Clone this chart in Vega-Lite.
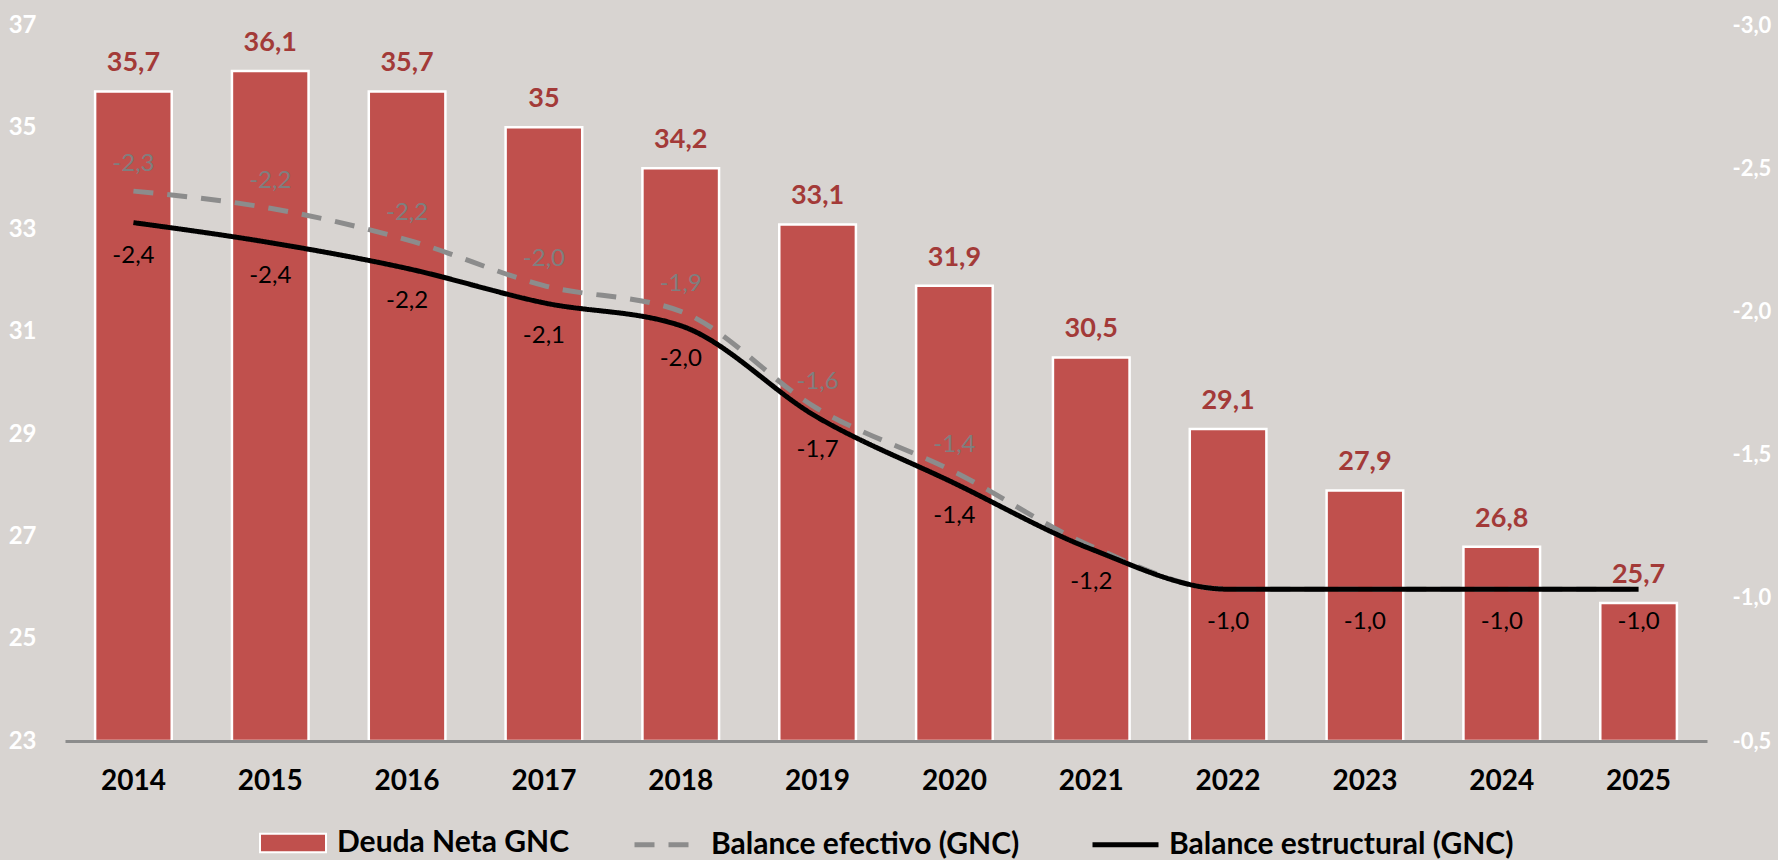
{
  "$schema": "https://vega.github.io/schema/vega-lite/v6.json",
  "autosize": {"type": "none"},
  "padding": {"left": 65, "top": 25, "right": 71, "bottom": 119},
  "width": 1642,
  "height": 716,
  "background": "#d8d4d1",
  "config": {
    "view": {"stroke": null},
    "font": "Lato",
    "legend": {
      "layout": {"bottom": {"anchor": "middle", "direction": "horizontal", "margin": 62}}
    }
  },
  "datasets": {
    "deuda": [
      {"anio": "2014", "serie": "Deuda Neta GNC", "deuda": 35.7, "etiqueta": "35,7"},
      {"anio": "2015", "serie": "Deuda Neta GNC", "deuda": 36.1, "etiqueta": "36,1"},
      {"anio": "2016", "serie": "Deuda Neta GNC", "deuda": 35.7, "etiqueta": "35,7"},
      {"anio": "2017", "serie": "Deuda Neta GNC", "deuda": 35.0, "etiqueta": "35"},
      {"anio": "2018", "serie": "Deuda Neta GNC", "deuda": 34.2, "etiqueta": "34,2"},
      {"anio": "2019", "serie": "Deuda Neta GNC", "deuda": 33.1, "etiqueta": "33,1"},
      {"anio": "2020", "serie": "Deuda Neta GNC", "deuda": 31.9, "etiqueta": "31,9"},
      {"anio": "2021", "serie": "Deuda Neta GNC", "deuda": 30.5, "etiqueta": "30,5"},
      {"anio": "2022", "serie": "Deuda Neta GNC", "deuda": 29.1, "etiqueta": "29,1"},
      {"anio": "2023", "serie": "Deuda Neta GNC", "deuda": 27.9, "etiqueta": "27,9"},
      {"anio": "2024", "serie": "Deuda Neta GNC", "deuda": 26.8, "etiqueta": "26,8"},
      {"anio": "2025", "serie": "Deuda Neta GNC", "deuda": 25.7, "etiqueta": "25,7"}
    ],
    "balance": [
      {"anio": "2014", "serie": "Balance efectivo (GNC)", "valor": -2.42, "etiqueta": "-2,3"},
      {"anio": "2015", "serie": "Balance efectivo (GNC)", "valor": -2.36, "etiqueta": "-2,2"},
      {"anio": "2016", "serie": "Balance efectivo (GNC)", "valor": -2.25, "etiqueta": "-2,2"},
      {"anio": "2017", "serie": "Balance efectivo (GNC)", "valor": -2.09, "etiqueta": "-2,0"},
      {"anio": "2018", "serie": "Balance efectivo (GNC)", "valor": -2.0, "etiqueta": "-1,9"},
      {"anio": "2019", "serie": "Balance efectivo (GNC)", "valor": -1.66, "etiqueta": "-1,6"},
      {"anio": "2020", "serie": "Balance efectivo (GNC)", "valor": -1.44, "etiqueta": "-1,4"},
      {"anio": "2021", "serie": "Balance efectivo (GNC)", "valor": -1.18, "etiqueta": ""},
      {"anio": "2022", "serie": "Balance efectivo (GNC)", "valor": -1.03, "etiqueta": ""},
      {"anio": "2023", "serie": "Balance efectivo (GNC)", "valor": -1.03, "etiqueta": ""},
      {"anio": "2024", "serie": "Balance efectivo (GNC)", "valor": -1.03, "etiqueta": ""},
      {"anio": "2025", "serie": "Balance efectivo (GNC)", "valor": -1.03, "etiqueta": ""},
      {"anio": "2014", "serie": "Balance estructural (GNC)", "valor": -2.31, "etiqueta": "-2,4"},
      {"anio": "2015", "serie": "Balance estructural (GNC)", "valor": -2.24, "etiqueta": "-2,4"},
      {"anio": "2016", "serie": "Balance estructural (GNC)", "valor": -2.15, "etiqueta": "-2,2"},
      {"anio": "2017", "serie": "Balance estructural (GNC)", "valor": -2.03, "etiqueta": "-2,1"},
      {"anio": "2018", "serie": "Balance estructural (GNC)", "valor": -1.95, "etiqueta": "-2,0"},
      {"anio": "2019", "serie": "Balance estructural (GNC)", "valor": -1.63, "etiqueta": "-1,7"},
      {"anio": "2020", "serie": "Balance estructural (GNC)", "valor": -1.40, "etiqueta": "-1,4"},
      {"anio": "2021", "serie": "Balance estructural (GNC)", "valor": -1.17, "etiqueta": "-1,2"},
      {"anio": "2022", "serie": "Balance estructural (GNC)", "valor": -1.03, "etiqueta": "-1,0"},
      {"anio": "2023", "serie": "Balance estructural (GNC)", "valor": -1.03, "etiqueta": "-1,0"},
      {"anio": "2024", "serie": "Balance estructural (GNC)", "valor": -1.03, "etiqueta": "-1,0"},
      {"anio": "2025", "serie": "Balance estructural (GNC)", "valor": -1.03, "etiqueta": "-1,0"}
    ]
  },
  "encoding": {
    "x": {
      "field": "anio",
      "type": "ordinal",
      "scale": {"paddingInner": 0.44, "paddingOuter": 0.22},
      "axis": {
        "title": null,
        "labelAngle": 0,
        "labelFont": "Lato",
        "labelFontSize": 28,
        "labelFontWeight": "bold",
        "labelColor": "#000000",
        "labelPadding": 26,
        "ticks": false,
        "domainColor": "#8c8c8c",
        "domainWidth": 3,
        "grid": false,
        "zindex": 1
      }
    }
  },
  "layer": [
    {
      "data": {"name": "deuda"},
      "encoding": {
        "y": {
          "field": "deuda",
          "type": "quantitative",
          "scale": {"domain": [23, 37], "zero": false, "nice": false},
          "axis": {
            "title": null,
            "orient": "left",
            "values": [23, 25, 27, 29, 31, 33, 35, 37],
            "domain": false,
            "ticks": false,
            "grid": false,
            "labelFont": "Lato",
            "labelFontSize": 24,
            "labelFontWeight": "bold",
            "labelColor": "#ffffff",
            "labelPadding": 29
          }
        }
      },
      "layer": [
        {
          "mark": {"type": "bar", "stroke": "#ffffff", "strokeWidth": 2.5},
          "encoding": {
            "y2": {"datum": 23},
            "fill": {
              "field": "serie",
              "type": "nominal",
              "scale": {"domain": ["Deuda Neta GNC"], "range": ["#c0504d"]},
              "legend": {
                "title": null,
                "orient": "bottom",
                "direction": "horizontal",
                "offset": 14,
                "labelFont": "Lato",
                "labelFontSize": 30,
                "labelFontWeight": "bold",
                "labelColor": "#000000",
                "labelLimit": 0,
                "labelOffset": 10,
                "symbolType": "M-1,-0.28H1V0.28H-1Z",
                "symbolSize": 4356,
                "symbolStrokeWidth": 2,
                "symbolStrokeColor": "#ffffff",
                "symbolOpacity": 1
              }
            }
          }
        },
        {
          "mark": {
            "type": "text",
            "baseline": "middle",
            "dy": -28,
            "font": "Lato",
            "fontSize": 27,
            "fontWeight": "bold",
            "color": "#a33a38"
          },
          "encoding": {"text": {"field": "etiqueta"}}
        }
      ]
    },
    {
      "data": {"name": "balance"},
      "encoding": {
        "y": {
          "field": "valor",
          "type": "quantitative",
          "scale": {"domain": [-3, -0.5], "reverse": true, "zero": false, "nice": false},
          "axis": {
            "title": null,
            "orient": "right",
            "values": [-3, -2.5, -2, -1.5, -1, -0.5],
            "labelExpr": "replace(replace(format(datum.value, '.1f'), '.', ','), '\u2212', '-')",
            "domain": false,
            "ticks": false,
            "grid": false,
            "labelFont": "Lato",
            "labelFontSize": 22,
            "labelFontWeight": "bold",
            "labelColor": "#ffffff",
            "labelPadding": 25
          }
        }
      },
      "layer": [
        {
          "mark": {"type": "line", "strokeWidth": 5, "interpolate": "monotone", "strokeCap": "butt", "strokeJoin": "round"},
          "encoding": {
            "stroke": {
              "field": "serie",
              "type": "nominal",
              "scale": {"domain": ["Balance efectivo (GNC)", "Balance estructural (GNC)"], "range": ["#8c8c8c", "#000000"]},
              "legend": {
                "title": null,
                "orient": "bottom",
                "direction": "horizontal",
                "offset": 14,
                "labelFont": "Lato",
                "labelFontSize": 30,
                "labelFontWeight": "bold",
                "labelColor": "#000000",
                "labelLimit": 0,
                "labelOffset": 8,
                "columnPadding": 62,
                "symbolType": "stroke",
                "symbolSize": 4356,
                "symbolStrokeWidth": 5,
                "symbolOpacity": 1
              }
            },
            "strokeDash": {
              "field": "serie",
              "type": "nominal",
              "scale": {"domain": ["Balance efectivo (GNC)", "Balance estructural (GNC)"], "range": [[20, 14], [1, 0]]},
              "legend": {
                "title": null,
                "orient": "bottom",
                "direction": "horizontal",
                "offset": 14,
                "labelFont": "Lato",
                "labelFontSize": 30,
                "labelFontWeight": "bold",
                "labelColor": "#000000",
                "labelLimit": 0,
                "labelOffset": 8,
                "columnPadding": 62,
                "symbolType": "stroke",
                "symbolSize": 4356,
                "symbolStrokeWidth": 5,
                "symbolOpacity": 1
              }
            }
          }
        },
        {
          "transform": [{"filter": "datum.serie === 'Balance efectivo (GNC)'"}],
          "mark": {"type": "text", "baseline": "middle", "dy": -27, "font": "Lato", "fontSize": 24, "color": "#7f7f7f"},
          "encoding": {"text": {"field": "etiqueta"}}
        },
        {
          "transform": [{"filter": "datum.serie === 'Balance estructural (GNC)'"}],
          "mark": {"type": "text", "baseline": "middle", "dy": 33, "font": "Lato", "fontSize": 24, "color": "#000000"},
          "encoding": {"text": {"field": "etiqueta"}}
        }
      ]
    }
  ],
  "resolve": {"scale": {"y": "independent"}}
}
